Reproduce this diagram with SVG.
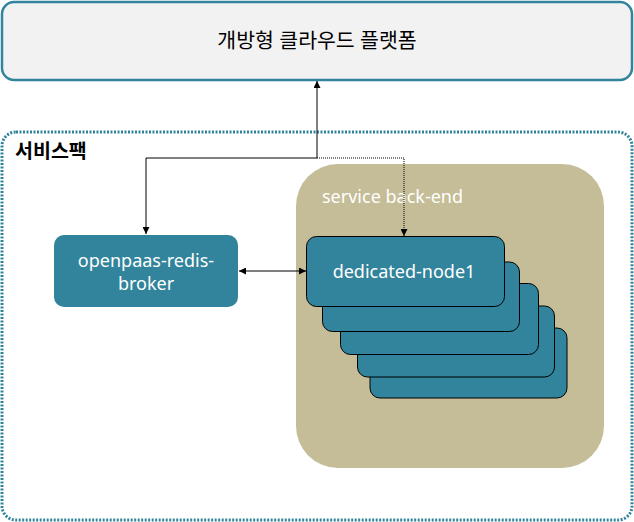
<svg xmlns="http://www.w3.org/2000/svg" width="634" height="522" viewBox="0 0 634 522">
<defs>
<style>
.t{font-family:"Noto Sans","Noto Sans CJK KR",sans-serif;}
.w{fill:#ffffff;font-size:18px;}
.node{fill:#31849b;stroke:#000;stroke-width:1;}
.ln{fill:none;stroke:#000;stroke-width:1;}
</style>
<marker id="ah" viewBox="0 0 10 10" refX="10" refY="5" markerWidth="7" markerHeight="7" orient="auto-start-reverse" markerUnits="userSpaceOnUse">
<path d="M0,0 L10,5 L0,10 z" fill="#000"/>
</marker>
</defs>
<rect width="634" height="522" fill="#ffffff"/>
<g id="platform">
<rect x="2" y="2" width="630" height="78" rx="12" fill="#f2f2f2" stroke="#31849b" stroke-width="2.5"/>
<text class="t" x="317" y="48" font-size="20.5" text-anchor="middle" fill="#000">개방형 클라우드 플랫폼</text>
</g>
<g id="servicepack">
<rect x="2" y="132" width="630" height="388" rx="14" fill="none" stroke="#31849b" stroke-width="3" stroke-dasharray="2,1.5"/>
<text class="t" x="15" y="158" font-size="19.5" font-weight="bold" fill="#000">서비스팩</text>
</g>
<g id="backend">
<rect x="296" y="164" width="308" height="304" rx="42" fill="#c4bd97"/>
<text class="t w" x="322" y="203">service back-end</text>
</g>
<g id="broker">
<rect x="54" y="235" width="184" height="72" rx="10" fill="#31849b"/>
<text class="t w" x="146" y="267" text-anchor="middle">openpaas-redis-</text>
<text class="t w" x="146" y="290" text-anchor="middle">broker</text>
</g>
<g id="dedicated-nodes">
<rect class="node" x="370" y="328" width="197" height="70" rx="10"/>
<rect class="node" x="357.5" y="306" width="197" height="71" rx="10"/>
<rect class="node" x="340.5" y="283.5" width="198" height="71" rx="10"/>
<rect class="node" x="322.5" y="262" width="197" height="69.5" rx="10"/>
<rect class="node" x="306.5" y="236.5" width="198" height="70" rx="10"/>
<text class="t w" x="404" y="278" text-anchor="middle">dedicated-node1</text>
</g>
<g id="connectors">
<path class="ln" d="M317,158 L317,81" marker-end="url(#ah)"/>
<path class="ln" d="M317,158 L146,158 L146,234" marker-end="url(#ah)"/>
<path class="ln" d="M317,158 L404,158 L404,236" stroke-dasharray="1,1" marker-end="url(#ah)"/>
<path class="ln" d="M239,271 L306,271" marker-start="url(#ah)" marker-end="url(#ah)"/>
</g>
</svg>
